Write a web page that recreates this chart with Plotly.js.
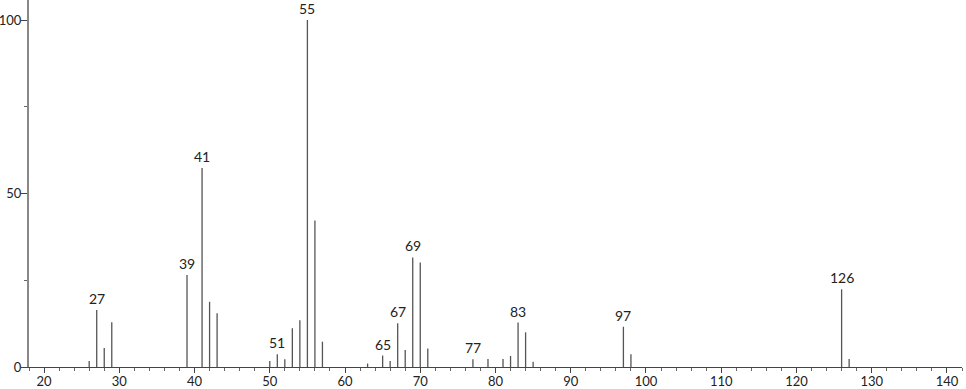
<!DOCTYPE html>
<html>
<head>
<meta charset="utf-8">
<script src="https://cdn.plot.ly/plotly-3.0.1.min.js"></script>
<style>html,body{margin:0;padding:0;background:#fff;}#chart{width:966px;height:389px;}</style>
</head>
<body>
<div id="chart"></div>
<script>
// m/z values and relative intensities
const mz = [26, 27, 28, 29, 39, 41, 42, 43, 50, 51, 52, 53, 54, 55, 56, 57, 63, 65, 66, 67, 68, 69, 70, 71, 77, 79, 81, 82, 83, 84, 85, 97, 98, 126, 127];
const intensity = [1.7, 16.4, 5.5, 12.9, 26.5, 57.4, 18.8, 15.5, 1.7, 3.7, 2.2, 11.2, 13.5, 100, 42.2, 7.3, 1.0, 3.3, 1.7, 12.6, 4.9, 31.6, 30.1, 5.3, 2.2, 2.3, 2.3, 3.2, 12.8, 10.0, 1.5, 11.6, 3.7, 22.4, 2.3];
const labelledPeaks = [27, 39, 41, 51, 55, 65, 67, 69, 77, 83, 97, 126];
const xTickVals = [20, 30, 40, 50, 60, 70, 80, 90, 100, 110, 120, 130, 140];
const yTickVals = [0, 50, 100];

const xs = [], ys = [];
mz.forEach((m, i) => { xs.push(m, m, null); ys.push(0, intensity[i], null); });

const trace = {
  x: xs, y: ys, type: 'scatter', mode: 'lines',
  line: {color: '#555', width: 1.3},
  hoverinfo: 'skip', showlegend: false
};

const annotations = labelledPeaks.map(p => ({
  x: p, y: intensity[mz.indexOf(p)], text: String(p),
  xref: 'x', yref: 'y', showarrow: false,
  xanchor: 'center', yanchor: 'bottom', yshift: 1,
  font: {family: 'Lato, DejaVu Sans, sans-serif', size: 14, color: '#222'}
}));

const layout = {
  width: 966, height: 389,
  margin: {l: 29, r: 4, t: 0, b: 22, pad: 0},
  paper_bgcolor: '#fff', plot_bgcolor: '#fff',
  font: {family: 'Lato, DejaVu Sans, sans-serif', size: 13, color: '#222'},
  xaxis: {
    range: [18, 142], showgrid: false, zeroline: false,
    showline: true, linecolor: '#444', linewidth: 1,
    tickmode: 'array', tickvals: xTickVals, ticktext: xTickVals.map(String),
    ticks: 'outside', ticklen: 5, tickcolor: '#444', tickwidth: 1,
    ticklabelstandoff: -3,
    minor: {dtick: 2, tick0: 0, ticks: 'outside', ticklen: 3, tickcolor: '#666', tickwidth: 1, showgrid: false},
    tickfont: {size: 13, color: '#222'}, fixedrange: true
  },
  yaxis: {
    range: [0, 105.8], showgrid: false, zeroline: false,
    showline: true, linecolor: '#888', linewidth: 2,
    tickmode: 'array', tickvals: yTickVals, ticktext: yTickVals.map(String),
    ticks: 'outside', ticklen: 6, tickcolor: '#444', tickwidth: 1,
    ticklabelstandoff: -3,
    minor: {dtick: 25, tick0: 0, ticks: 'outside', ticklen: 3, tickcolor: '#666', tickwidth: 1, showgrid: false},
    tickfont: {size: 13, color: '#222'}, fixedrange: true
  },
  annotations: annotations
};

Plotly.newPlot('chart', [trace], layout, {displayModeBar: false, staticPlot: true});
</script>
</body>
</html>
